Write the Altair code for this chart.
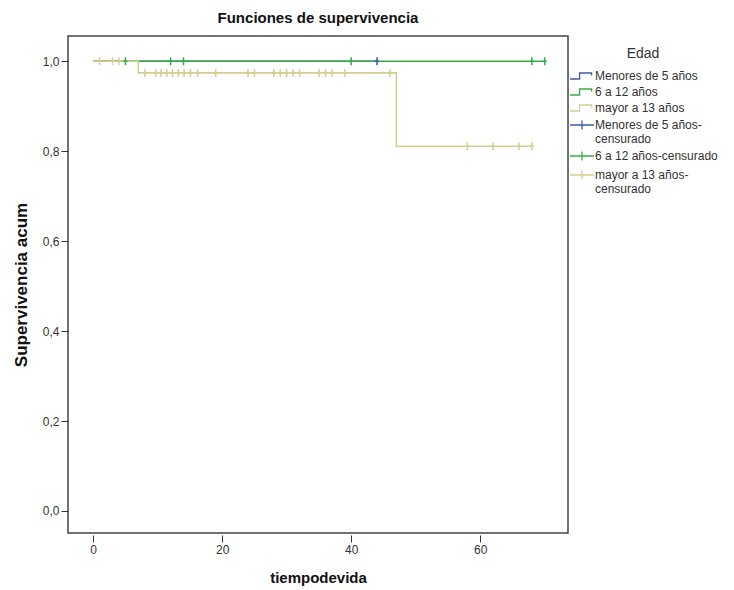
import altair as alt
import pandas as pd

# ---- data ----
grupos = ["Menores de 5 años", "6 a 12 años", "mayor a 13 años"]
censurados = ["Menores de 5 años-censurado", "6 a 12 años-censurado", "mayor a 13 años-censurado"]
colores_grupo = ["#3E58AC", "#34AD48", "#D6CD93"]

# step curves (time, cumulative survival)
menores_t = [0, 44]
menores_s = [1.0, 1.0]
seis_t = [0, 70]
seis_s = [1.0, 1.0]
mayor_t = [0, 7, 47, 68]
mayor_s = [1.0, 0.974, 0.811, 0.811]

# censored times
menores_cens = [44]
seis_cens = [5, 12, 14, 40, 68, 70]
mayor_cens = [1, 3, 4, 8, 9.7, 10.5, 11.4, 12.3, 13.2, 14.1, 15.1, 16.2, 19, 24, 25,
              28, 29, 30, 31, 32, 35, 36, 37, 39, 46, 58, 62, 66, 68]

x_ticks = [0, 20, 40, 60]
y_ticks = [0.0, 0.2, 0.4, 0.6, 0.8, 1.0]

# ---- tables ----
curvas = [(menores_t, menores_s), (seis_t, seis_s), (mayor_t, mayor_s)]
cens = [menores_cens, seis_cens, mayor_cens]


def surv_at(ts, ss, t):
    v = ss[0]
    for ti, si in zip(ts, ss):
        if ti <= t:
            v = si
    return v


line_rows = []
for g, (ts, ss) in zip(grupos, curvas):
    for t, s in zip(ts, ss):
        line_rows.append({"serie": g, "t": t, "s": s})
lines_df = pd.DataFrame(line_rows)

cens_rows = []
for c, (ts, ss), cl in zip(censurados, curvas, cens):
    for t in cl:
        cens_rows.append({"serie": c, "t": t, "s": surv_at(ts, ss, t)})
cens_df = pd.DataFrame(cens_rows)

dominio = grupos + censurados
rango = colores_grupo + colores_grupo

step_path = "M-1,0.5H0.6V-0.5H2.6V-0.1"
plus_path = "M-1,0H3M1,-0.75V0.75"
formas = [step_path] * 3 + [plus_path] * 3

xs = alt.Scale(domain=[-3.9, 73.6], nice=False, zero=False)
ys = alt.Scale(domain=[-0.049, 1.056], nice=False, zero=False)
color_scale = alt.Scale(domain=dominio, range=rango)

label_expr = ("datum.label == 'Menores de 5 años-censurado' ? ['Menores de 5 años-', 'censurado'] : "
              "datum.label == 'mayor a 13 años-censurado' ? ['mayor a 13 años-', 'censurado'] : datum.label")

leg = alt.Legend(title="Edad", orient="none", legendX=501, legendY=11,
                 titleFontSize=14, titleFontWeight="normal", titleColor="#333",
                 titleAnchor="middle", titlePadding=8,
                 labelFontSize=12, labelColor="#333", labelExpr=label_expr, labelLimit=300,
                 symbolSize=144, symbolStrokeWidth=1.3, rowPadding=3, labelOffset=12,
                 symbolFillColor="transparent")

x_enc = alt.X("t:Q", scale=xs,
              axis=alt.Axis(title="tiempodevida", values=x_ticks, grid=False, domain=False,
                            offset=2, tickSize=7, tickColor="#333", labelColor="#333",
                            labelFontSize=12, labelPadding=2, titleFontSize=15,
                            titleFontWeight="bold", titlePadding=15, titleColor="#111"))
y_enc = alt.Y("s:Q", scale=ys,
              axis=alt.Axis(title="Supervivencia acum", values=y_ticks, grid=False, domain=False,
                            tickSize=7, tickColor="#333", labelColor="#333", labelFontSize=12,
                            labelPadding=2,
                            labelExpr="replace(format(datum.value, '.1f'), '.', ',')",
                            titleFontSize=17, titleFontWeight="bold", titlePadding=12,
                            titleColor="#111"))

layers = []
for g in grupos:
    layers.append(
        alt.Chart(lines_df).transform_filter(alt.datum.serie == g)
        .mark_line(interpolate="step-after", strokeWidth=1.6)
        .encode(x=x_enc, y=y_enc,
                color=alt.Color("serie:N", scale=color_scale, legend=leg))
    )

marks = alt.Chart(cens_df).mark_point(filled=False, strokeWidth=1.5, size=64,
                                      shape="M-0.5,0H0.5M0,-1V1", opacity=1).encode(
    x=alt.X("t:Q", scale=xs),
    y=alt.Y("s:Q", scale=ys),
    color=alt.Color("serie:N", scale=color_scale, legend=leg),
)

legend_df = pd.DataFrame({"serie": pd.Series([], dtype=str)})
legend_layer = alt.Chart(legend_df).mark_point(filled=False).encode(
    color=alt.Color("serie:N", scale=color_scale, legend=leg),
    shape=alt.Shape("serie:N", scale=alt.Scale(domain=dominio, range=formas), legend=leg),
)

chart = alt.layer(*layers, marks, legend_layer).properties(
    width=500, height=497,
    title=alt.TitleParams("Funciones de supervivencia", fontSize=15, fontWeight="bold",
                          color="#111", anchor="middle", offset=10),
    autosize=alt.AutoSizeParams(type="none"),
    padding={"left": 60, "top": 28, "right": 158, "bottom": 57},
).configure(font="Liberation Sans").configure_view(
    fill="#F6F7F6", stroke="#444", strokeWidth=1.5
)

chart.save("out.html", embed_options={"renderer": "svg", "actions": False})
